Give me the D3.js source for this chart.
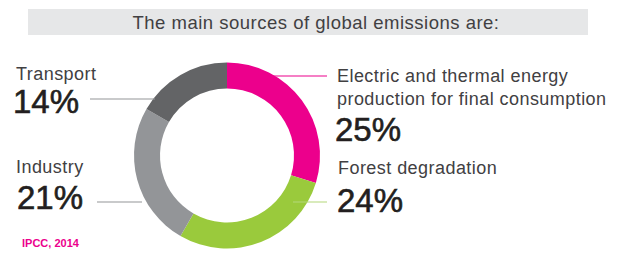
<!DOCTYPE html>
<html>
<head>
<meta charset="utf-8">
<script src="https://cdn.jsdelivr.net/npm/d3@7"></script>
<style>
  body { margin: 0; background: #fff; }
  svg { display: block; font-family: "Liberation Sans", Arial, Helvetica, sans-serif; }
</style>
</head>
<body>
<svg id="chart" width="617" height="255"></svg>
<script>
// data
var categories = ["Electric and thermal energy production for final consumption", "Forest degradation", "Industry", "Transport"];
var values = [25, 24, 21, 14];
var palette = ["#ec008c", "#9aca3c", "#939598", "#636466"];
var title = "The main sources of global emissions are:";
var source = "IPCC, 2014";

var svg = d3.select("#chart"),
    cx = 227, cy = 155.5,
    outerR = 93, innerR = 67;

var color = d3.scaleOrdinal().domain(categories).range(palette);

// title band
svg.append("rect")
    .attr("x", 28).attr("y", 9)
    .attr("width", 560).attr("height", 26)
    .attr("fill", "#e6e7e8");
svg.append("text")
    .attr("x", 316).attr("y", 28.5)
    .attr("text-anchor", "middle")
    .attr("font-size", 18.5)
    .attr("letter-spacing", 0.5)
    .attr("fill", "#414042")
    .text(title);

// donut
var pie = d3.pie().sort(null).value(function(d) { return d.value; });
var arc = d3.arc().innerRadius(innerR).outerRadius(outerR);
var rows = categories.map(function(c, i) { return {name: c, value: values[i]}; });

var g = svg.append("g").attr("transform", "translate(" + cx + "," + cy + ")");
g.selectAll("path")
  .data(pie(rows))
  .enter().append("path")
    .attr("d", arc)
    .attr("fill", function(d) { return color(d.data.name); });

// label layout (positions only)
var layout = {
  "Electric and thermal energy production for final consumption": {
    lines: ["Electric and thermal energy", "production for final consumption"],
    x: 337, y: 82, pctX: 335, pctY: 141, lineY: 76, x1: 250, x2: 327, lineColor: "#ec008c"
  },
  "Forest degradation": {
    lines: ["Forest degradation"],
    x: 338, y: 174, pctX: 337, pctY: 212, lineY: 202, x1: 293, x2: 327, lineColor: "#b3d77a"
  },
  "Industry": {
    lines: ["Industry"],
    x: 16, y: 173, pctX: 17, pctY: 209, lineY: 202, x1: 97, x2: 142, lineColor: "#939598"
  },
  "Transport": {
    lines: ["Transport"],
    x: 16, y: 80, pctX: 13, pctY: 113, lineY: 99, x1: 90, x2: 155, lineColor: "#939598"
  }
};

var labels = svg.append("g").selectAll("g")
  .data(rows)
  .enter().append("g");

labels.append("line")
    .attr("x1", function(d) { return layout[d.name].x1; })
    .attr("x2", function(d) { return layout[d.name].x2; })
    .attr("y1", function(d) { return layout[d.name].lineY; })
    .attr("y2", function(d) { return layout[d.name].lineY; })
    .attr("stroke", function(d) { return layout[d.name].lineColor; })
    .attr("stroke-width", 1.2);

labels.each(function(d) {
  var L = layout[d.name], sel = d3.select(this);
  L.lines.forEach(function(t, i) {
    sel.append("text")
        .attr("x", L.x).attr("y", L.y + i * 23)
        .attr("font-size", 18)
        .attr("letter-spacing", 0.45)
        .attr("fill", "#414042")
        .text(t);
  });
  sel.append("text")
      .attr("x", L.pctX).attr("y", L.pctY)
      .attr("font-size", 33)
      .attr("fill", "#231f20")
      .attr("stroke", "#231f20")
      .attr("stroke-width", 0.6)
      .text(d.value + "%");
});

// source note
svg.append("text")
    .attr("x", 22).attr("y", 247)
    .attr("font-size", 11)
    .attr("font-weight", "bold")
    .attr("fill", "#ec008c")
    .text(source);
</script>
</body>
</html>
